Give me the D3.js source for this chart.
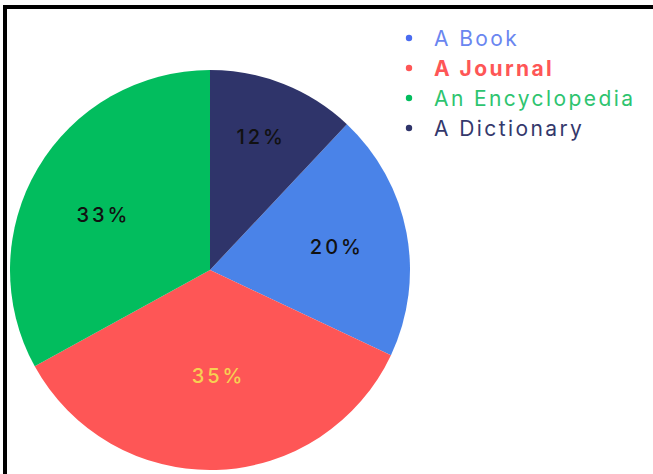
<!DOCTYPE html>
<html><head><meta charset="utf-8">
<script src="https://cdn.jsdelivr.net/npm/d3@7"></script>
<style>
html,body{margin:0;padding:0;background:#fff;}
svg{display:block;font-family:Inter,"Noto Sans",sans-serif;}
</style></head>
<body>
<svg id="chart" width="653" height="474"></svg>
<script>
const categories = ["A Book", "A Journal", "An Encyclopedia", "A Dictionary"];
const values = [20, 35, 33, 12];
const sliceColors = ["#4a83e8", "#fe5656", "#02bd5e", "#2f346a"];
const legendTextColors = ["#6a86f0", "#fe5656", "#2ec46f", "#34386c"];
const labelColors = ["#111111", "#f7d052", "#111111", "#111111"];

const svg = d3.select("#chart");
// frame
svg.append("rect").attr("x", 5).attr("y", 7).attr("width", 700).attr("height", 520)
  .attr("fill", "none").attr("stroke", "#000").attr("stroke-width", 4);

const cx = 210, cy = 270, R = 200;
const total = d3.sum(values);
const start = 2 * Math.PI * values[values.length - 1] / total;
const pie = d3.pie().sort(null).value(d => d)
  .startAngle(start).endAngle(start + 2 * Math.PI);
const arcs = pie(values);
const arc = d3.arc().innerRadius(0).outerRadius(R);
const g = svg.append("g").attr("transform", `translate(${cx},${cy})`);
g.selectAll("path").data(arcs).join("path")
  .attr("d", arc).attr("fill", (d, i) => sliceColors[i]);

// label placement (style): radial distance and angular nudge in degrees
const labelR = [129, 106, 120, 143];
const labelShift = [0.5, -2.8, -3.3, -0.6];
g.selectAll("text").data(arcs).join("text")
  .attr("transform", (d, i) => {
    const a = (d.startAngle + d.endAngle) / 2 + labelShift[i] * Math.PI / 180;
    return `translate(${Math.sin(a) * labelR[i]},${-Math.cos(a) * labelR[i]})`;
  })
  .attr("text-anchor", "middle").attr("dy", "0.36em")
  .attr("font-size", 20).attr("font-weight", 500).attr("letter-spacing", 3)
  .attr("fill", (d, i) => labelColors[i])
  .text(d => Math.round(d.data / total * 100) + "%");

const leg = svg.append("g").attr("transform", "translate(409,38)");
const dotColors = ["#4a6cf0", "#fe5656", "#02bd5e", "#2f346a"];
const items = leg.selectAll("g").data(categories).join("g")
  .attr("transform", (d, i) => `translate(0,${i * 30})`);
items.append("circle").attr("r", 3.2).attr("fill", (d, i) => dotColors[i]);
items.append("text").attr("x", 25).attr("dy", "0.36em")
  .attr("font-size", 21).attr("letter-spacing", 2.4)
  .attr("font-weight", (d, i) => i === 1 ? 700 : 400)
  .attr("fill", (d, i) => legendTextColors[i])
  .text(d => d);
</script>
</body></html>
